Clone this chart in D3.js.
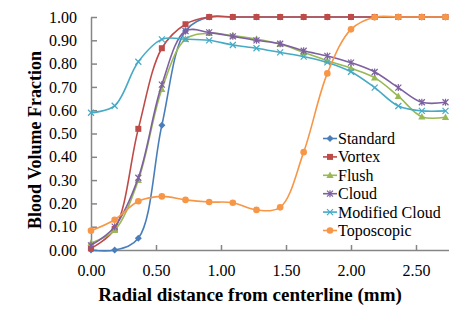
<!DOCTYPE html>
<html><head><meta charset="utf-8">
<script src="https://cdn.jsdelivr.net/npm/d3@7"></script>
<style>body{margin:0;background:#fff}svg{display:block}text{font-family:"Liberation Serif","Times New Roman",serif}</style>
</head><body><svg id="c" width="472" height="314"></svg>
<script>
const xValues = [0,0.182,0.364,0.545,0.727,0.909,1.091,1.273,1.455,1.636,1.818,2.0,2.182,2.364,2.545,2.727];
const seriesNames = ["Standard","Vortex","Flush","Cloud","Modified Cloud","Toposcopic"];
const standard = [0.00,0.00,0.05,0.535,0.94,1.00,1.00,1.00,1.00,1.00,1.00,1.00,1.00,1.00,1.00,1.00];
const vortex = [0.007,0.09,0.52,0.866,0.969,1.00,1.00,1.00,1.00,1.00,1.00,1.00,1.00,1.00,1.00,1.00];
const flush = [0.03,0.085,0.30,0.69,0.905,0.93,0.92,0.905,0.884,0.848,0.812,0.78,0.74,0.66,0.572,0.57];
const cloud = [0.02,0.10,0.31,0.71,0.94,0.934,0.917,0.90,0.885,0.855,0.833,0.804,0.764,0.697,0.634,0.634];
const modCloud = [0.589,0.619,0.808,0.904,0.905,0.90,0.88,0.866,0.848,0.83,0.805,0.765,0.697,0.618,0.597,0.597];
const toposcopic = [0.083,0.13,0.209,0.23,0.215,0.206,0.203,0.172,0.183,0.42,0.758,0.947,0.999,1.00,1.00,1.00];
const yTicks = [0,0.1,0.2,0.3,0.4,0.5,0.6,0.7,0.8,0.9,1.0];
const xTicks = [0,0.5,1.0,1.5,2.0,2.5];
const colors = ["#4a7ebb","#be4b48","#98b954","#7d60a0","#46aac5","#f79646"];
const markers = ["diamond","square","triangle","star","cross","circle"];
const allSeries = [standard,vortex,flush,cloud,modCloud,toposcopic];

const svg = d3.select("#c");
const x = d3.scaleLinear().domain([0,2.75]).range([91,448.5]);
const y = d3.scaleLinear().domain([0,1]).range([250,17]);

// axes
const yAxis = svg.append("g").attr("transform","translate(91,0)")
  .call(d3.axisLeft(y).tickValues(yTicks).tickFormat(d3.format(".2f")).tickSizeInner(-6).tickSizeOuter(0).tickPadding(14));
const xAxis = svg.append("g").attr("transform","translate(0,250)")
  .call(d3.axisBottom(x).tickValues(xTicks).tickFormat(d3.format(".2f")).tickSizeInner(-5).tickSizeOuter(0).tickPadding(15));
[yAxis,xAxis].forEach(a=>{
  a.selectAll("path,line").attr("stroke","#868686").attr("stroke-width",1.5);
  a.selectAll("text").attr("font-size",16).attr("fill","#000").attr("font-family","Liberation Serif");
});

function drawMarker(g, type, cx, cy, color){
  if(type==="diamond"){
    g.append("path").attr("d",`M${cx},${cy-3.5}L${cx+3.5},${cy}L${cx},${cy+3.5}L${cx-3.5},${cy}Z`).attr("fill",color);
  } else if(type==="square"){
    g.append("rect").attr("x",cx-3).attr("y",cy-3).attr("width",6).attr("height",6).attr("fill",color);
  } else if(type==="triangle"){
    g.append("path").attr("d",`M${cx},${cy-3.8}L${cx+3.6},${cy+2.8}L${cx-3.6},${cy+2.8}Z`).attr("fill",color);
  } else if(type==="star"){
    g.append("path").attr("d",`M${cx-3},${cy-3}L${cx+3},${cy+3}M${cx-3},${cy+3}L${cx+3},${cy-3}M${cx},${cy-3.5}L${cx},${cy+3.5}`).attr("stroke",color).attr("stroke-width",1.2).attr("fill","none");
  } else if(type==="cross"){
    g.append("path").attr("d",`M${cx-3},${cy-3}L${cx+3},${cy+3}M${cx-3},${cy+3}L${cx+3},${cy-3}`).attr("stroke",color).attr("stroke-width",1.2).attr("fill","none");
  } else {
    g.append("circle").attr("cx",cx).attr("cy",cy).attr("r",3.3).attr("fill",color);
  }
}

const line = d3.line().x((d,i)=>x(xValues[i])).y(d=>y(d)).curve(d3.curveCatmullRom.alpha(0.5));
allSeries.forEach((s,k)=>{
  const g = svg.append("g");
  g.append("path").datum(s).attr("d",line).attr("fill","none").attr("stroke",colors[k]).attr("stroke-width",1.6);
  s.forEach((v,i)=>drawMarker(g,markers[k],x(xValues[i]),y(v),colors[k]));
});

// legend
const lg = svg.append("g");
seriesNames.forEach((n,k)=>{
  const cy = 138.5 + k*18.4;
  lg.append("line").attr("x1",323).attr("x2",337).attr("y1",cy).attr("y2",cy).attr("stroke",colors[k]).attr("stroke-width",1.6);
  drawMarker(lg,markers[k],330,cy,colors[k]);
  lg.append("text").attr("x",338).attr("y",cy+5.5).attr("font-size",16).text(n);
});

// titles
svg.append("text").attr("x",250).attr("y",301).attr("text-anchor","middle").attr("font-size",19).attr("font-weight","bold").text("Radial distance from centerline (mm)");
svg.append("text").attr("transform","translate(41,140) rotate(-90)").attr("text-anchor","middle").attr("font-size",18).attr("font-weight","bold").text("Blood Volume Fraction");
</script></body></html>
